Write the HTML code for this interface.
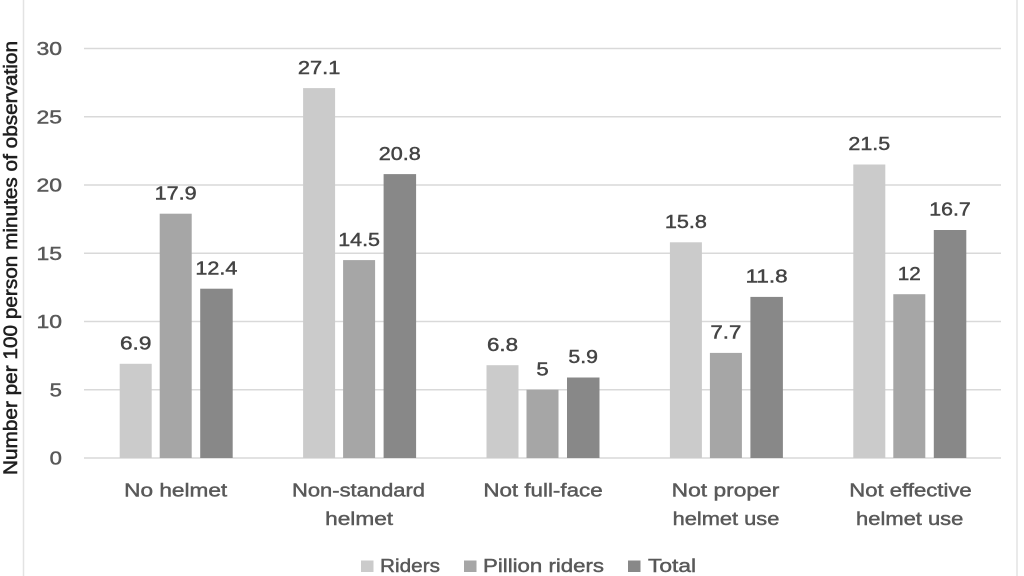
<!DOCTYPE html>
<html>
<head>
<meta charset="utf-8">
<style>
  html, body { margin: 0; padding: 0; background: #ffffff; }
  svg { display: block; }
  text { font-family: "Liberation Sans", sans-serif; }
</style>
</head>
<body>
<svg width="1024" height="576" viewBox="0 0 1024 576" xmlns="http://www.w3.org/2000/svg">
  <rect x="0" y="0" width="1024" height="576" fill="#ffffff"/>
  <!-- border lines -->
  <line x1="23.5" y1="0" x2="23.5" y2="576" stroke="#e3e3e3" stroke-width="1.5"/>
  <line x1="1017" y1="0" x2="1017" y2="576" stroke="#e3e3e3" stroke-width="1.5"/>

  <!-- gridlines -->
  <g stroke="#d9d9d9" stroke-width="1.6">
    <line x1="84" y1="48.5" x2="1001" y2="48.5"/>
    <line x1="84" y1="116.75" x2="1001" y2="116.75"/>
    <line x1="84" y1="185" x2="1001" y2="185"/>
    <line x1="84" y1="253.25" x2="1001" y2="253.25"/>
    <line x1="84" y1="321.5" x2="1001" y2="321.5"/>
    <line x1="84" y1="389.75" x2="1001" y2="389.75"/>
    <line x1="84" y1="458" x2="1001" y2="458"/>
  </g>

  <!-- tick labels -->
  <g fill="#595959" stroke="#595959" stroke-width="0.45" font-size="18.5" text-anchor="end">
    <text x="62" y="55.2" textLength="25.5" lengthAdjust="spacingAndGlyphs">30</text>
    <text x="62" y="123.4" textLength="25.5" lengthAdjust="spacingAndGlyphs">25</text>
    <text x="62" y="191.7" textLength="25.5" lengthAdjust="spacingAndGlyphs">20</text>
    <text x="62" y="259.9" textLength="25.5" lengthAdjust="spacingAndGlyphs">15</text>
    <text x="62" y="328.2" textLength="25.5" lengthAdjust="spacingAndGlyphs">10</text>
    <text x="62" y="396.4" textLength="12.3" lengthAdjust="spacingAndGlyphs">5</text>
    <text x="62" y="464.7" textLength="12.3" lengthAdjust="spacingAndGlyphs">0</text>
  </g>

  <!-- y axis title -->
  <text transform="translate(16.8,258) rotate(-90)" text-anchor="middle" fill="#1f1f1f" stroke="#1f1f1f" stroke-width="0.55" font-size="19.5" textLength="434" lengthAdjust="spacingAndGlyphs">Number per 100 person minutes of observation</text>

  <!-- bars: y(v)=458-13.65v -->
  <rect x="119.7" y="363.8" width="32" height="94.2" fill="#cbcbcb"/>
  <rect x="159.7" y="213.7" width="32" height="244.3" fill="#a6a6a6"/>
  <rect x="200.2" y="288.7" width="32.5" height="169.3" fill="#888888"/>

  <rect x="303.1" y="88.1" width="32" height="369.9" fill="#cbcbcb"/>
  <rect x="343.1" y="260.1" width="32" height="197.9" fill="#a6a6a6"/>
  <rect x="383.6" y="174.1" width="32.5" height="283.9" fill="#888888"/>

  <rect x="486.5" y="365.2" width="32" height="92.8" fill="#cbcbcb"/>
  <rect x="526.5" y="389.75" width="32" height="68.25" fill="#a6a6a6"/>
  <rect x="567" y="377.5" width="32.5" height="80.5" fill="#888888"/>

  <rect x="669.9" y="242.3" width="32" height="215.7" fill="#cbcbcb"/>
  <rect x="709.9" y="352.9" width="32" height="105.1" fill="#a6a6a6"/>
  <rect x="750.4" y="296.9" width="32.5" height="161.1" fill="#888888"/>

  <rect x="853.3" y="164.5" width="32" height="293.5" fill="#cbcbcb"/>
  <rect x="893.3" y="294.2" width="32" height="163.8" fill="#a6a6a6"/>
  <rect x="933.8" y="230" width="32.5" height="228" fill="#888888"/>

  <!-- data labels -->
  <g fill="#444444" stroke="#444444" stroke-width="0.45" font-size="18.5" text-anchor="middle">
    <text x="135.7" y="349.5" textLength="31.4" lengthAdjust="spacingAndGlyphs">6.9</text>
    <text x="175.7" y="199.4" textLength="42" lengthAdjust="spacingAndGlyphs">17.9</text>
    <text x="216.4" y="274.4" textLength="42" lengthAdjust="spacingAndGlyphs">12.4</text>

    <text x="319.1" y="73.8" textLength="42.5" lengthAdjust="spacingAndGlyphs">27.1</text>
    <text x="359.1" y="245.8" textLength="41.7" lengthAdjust="spacingAndGlyphs">14.5</text>
    <text x="399.8" y="159.8" textLength="42" lengthAdjust="spacingAndGlyphs">20.8</text>

    <text x="502.5" y="350.9" textLength="31" lengthAdjust="spacingAndGlyphs">6.8</text>
    <text x="542.5" y="375.4" textLength="12.3" lengthAdjust="spacingAndGlyphs">5</text>
    <text x="583.2" y="363.2" textLength="29.5" lengthAdjust="spacingAndGlyphs">5.9</text>

    <text x="685.9" y="228" textLength="42" lengthAdjust="spacingAndGlyphs">15.8</text>
    <text x="725.9" y="338.6" textLength="31" lengthAdjust="spacingAndGlyphs">7.7</text>
    <text x="766.6" y="282.6" textLength="42" lengthAdjust="spacingAndGlyphs">11.8</text>

    <text x="869.3" y="150.2" textLength="41.7" lengthAdjust="spacingAndGlyphs">21.5</text>
    <text x="909.3" y="279.9" textLength="23" lengthAdjust="spacingAndGlyphs">12</text>
    <text x="950" y="215.7" textLength="41.4" lengthAdjust="spacingAndGlyphs">16.7</text>
  </g>

  <!-- category labels -->
  <g fill="#595959" stroke="#595959" stroke-width="0.45" font-size="18.5" text-anchor="middle">
    <text x="175.7" y="496.5" textLength="103" lengthAdjust="spacingAndGlyphs">No helmet</text>
    <text x="358.5" y="496.5" textLength="133" lengthAdjust="spacingAndGlyphs">Non-standard</text>
    <text x="359.1" y="525" textLength="68" lengthAdjust="spacingAndGlyphs">helmet</text>
    <text x="543" y="496.5" textLength="119.3" lengthAdjust="spacingAndGlyphs">Not full-face</text>
    <text x="725.5" y="496.5" textLength="107.6" lengthAdjust="spacingAndGlyphs">Not proper</text>
    <text x="726" y="525" textLength="106.7" lengthAdjust="spacingAndGlyphs">helmet use</text>
    <text x="910.5" y="496.5" textLength="122.4" lengthAdjust="spacingAndGlyphs">Not effective</text>
    <text x="909.7" y="525" textLength="107.3" lengthAdjust="spacingAndGlyphs">helmet use</text>
  </g>

  <!-- legend -->
  <rect x="361" y="560.5" width="12.5" height="11.5" fill="#cbcbcb"/>
  <rect x="464" y="560.5" width="12.5" height="11.5" fill="#a6a6a6"/>
  <rect x="628" y="560.5" width="12.5" height="11.5" fill="#888888"/>
  <g fill="#595959" stroke="#595959" stroke-width="0.45" font-size="18.5">
    <text x="380" y="572" textLength="60" lengthAdjust="spacingAndGlyphs">Riders</text>
    <text x="483" y="572" textLength="121" lengthAdjust="spacingAndGlyphs">Pillion riders</text>
    <text x="648" y="572" textLength="48" lengthAdjust="spacingAndGlyphs">Total</text>
  </g>
</svg>
</body>
</html>
